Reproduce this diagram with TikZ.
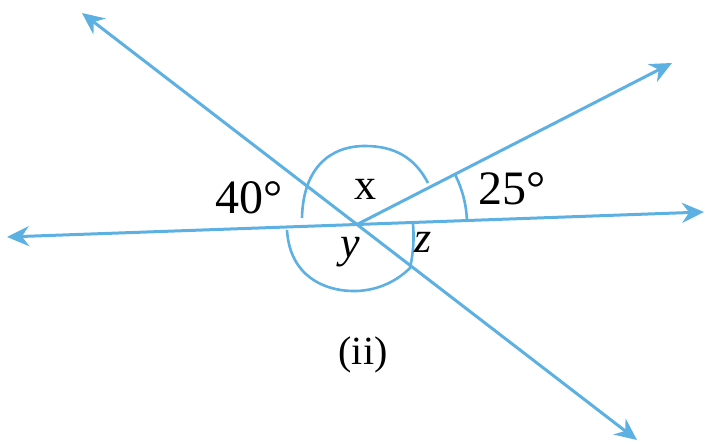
\documentclass[tikz,border=0pt]{standalone}
\usepackage{fontspec}
\setmainfont{Liberation Serif}
\usetikzlibrary{arrows.meta}
\definecolor{raycol}{RGB}{92,176,226}

\begin{document}
\begin{tikzpicture}[x=0.5pt,y=0.5pt,
  blueline/.style={draw=raycol,line width=1.5pt},
  tipped/.style={-{Stealth[length=11pt,width=10pt]}},
  anglearc/.style={draw=raycol,line width=1.3pt},
  deg/.style={anchor=base,inner sep=0pt,font=\fontsize{24}{28}\selectfont},
  letter/.style={anchor=base,inner sep=0pt,font=\fontsize{22}{26}\selectfont}]
\useasboundingbox (0,0) rectangle (708,448);

% meeting point and line ends
\coordinate (O) at (357,223.5);
\coordinate (lefttip) at (7,211);
\coordinate (righttip) at (704,236);
\coordinate (ultip) at (82,435);
\coordinate (lrtip) at (637,8);
\coordinate (urtip) at (672,385);

\draw[blueline,tipped] (O) -- (lefttip);
\draw[blueline,tipped] (O) -- (righttip);
\draw[blueline,tipped] (O) -- (ultip);
\draw[blueline,tipped] (O) -- (lrtip);
\draw[blueline,tipped] (O) -- (urtip);

% marks of x and 40
\draw[anglearc]
(428,265) .. controls (415,290) and (395,302) .. (365,302)
.. controls (330,302) and (303,280) .. (302,230);
% marks of y and z
\draw[anglearc]
(287,218) .. controls (290,168) and (330,156) .. (357,157)
.. controls (380,158) and (398,168) .. (410,180)
.. controls (414,198) and (414,213) .. (413,224);
% mark of 25
\draw[anglearc] ([shift={(O)}]27:110) arc[start angle=27,end angle=2,radius=110];

\node[deg] (forty) at (249.5,234) {40°};
\node[deg] (twentyfive) at (512,243) {25°};
\node[letter] (xlbl) at (365,248) {x};
\node[letter] (ylbl) at (350,190) {\itshape y};
\node[letter] (zlbl) at (423,195) {\itshape z};
\node[anchor=base,inner sep=0pt,font=\fontsize{20}{24}\selectfont] (caption) at (363,83) {(ii)};
\end{tikzpicture}
\end{document}
